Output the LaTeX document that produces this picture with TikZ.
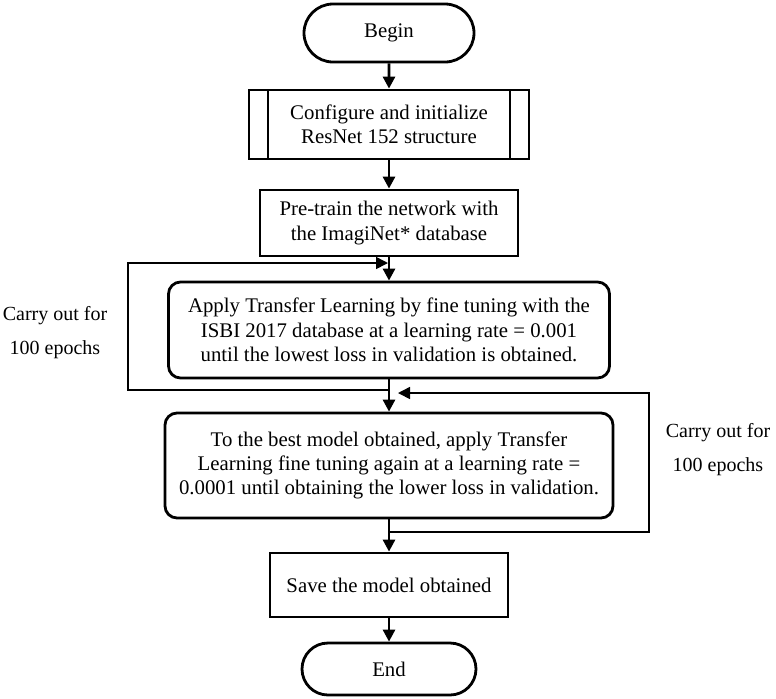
\documentclass[tikz,border=0pt]{standalone}
\usepackage{fontspec}
\setmainfont{Liberation Serif}
\usetikzlibrary{shapes.misc,arrows.meta}

\begin{document}
\begin{tikzpicture}[x=0.5pt,y=-0.5pt,
    every node/.style={font=\fontsize{10.4}{12.2}\selectfont, align=center},
    terminal/.style={draw, line width=1.4pt, rounded rectangle, inner sep=0pt},
    procbox/.style={draw, line width=1.4pt, rectangle, inner sep=0pt},
    roundbox/.style={draw, line width=1.4pt, rectangle, rounded corners=6pt, inner sep=0pt},
    predef/.style={procbox, path picture={
        \draw[line width=1.4pt]
        ([xshift=9.5pt]path picture bounding box.north west) -- ([xshift=9.5pt]path picture bounding box.south west)
        ([xshift=-9.5pt]path picture bounding box.north east) -- ([xshift=-9.5pt]path picture bounding box.south east);}},
    sidenote/.style={font=\fontsize{10}{17}\selectfont},
    flow/.style={line width=1.4pt, -{Triangle[width=6pt,length=6pt]}},
    loopline/.style={line width=0.8pt, -{Triangle[width=6pt,length=6pt]}}]
    \useasboundingbox (0,0) rectangle (776,698);
    \node[terminal, minimum width=85pt, minimum height=29pt] (begin)    at (389,33)    {Begin};
    \node[predef,   minimum width=140pt, minimum height=34.5pt] (config) at (389,124.5) {Configure and initialize\\ResNet 152 structure};
    \node[procbox,  minimum width=129pt, minimum height=33pt] (pretrain) at (389,223)   {Pre-train the network with\\the ImagiNet* database};
    \node[roundbox, minimum width=220.5pt, minimum height=48pt] (apply)  at (389,330)   {Apply Transfer Learning by fine tuning with the\\ISBI 2017 database at a learning rate = 0.001\\until the lowest loss in validation is obtained.};
    \node[roundbox, minimum width=224pt, minimum height=52.5pt] (again)  at (389,465.5) {To the best model obtained, apply Transfer\\Learning fine tuning again at a learning rate =\\0.0001 until obtaining the lower loss in validation.};
    \node[procbox,  minimum width=119pt, minimum height=32pt] (save)     at (389,585)   {Save the model obtained};
    \node[terminal, minimum width=87pt, minimum height=26pt] (end)       at (389,669)   {End};
    \node[sidenote] (note-l) at (55,333) {Carry out for\\100 epochs};
    \node[sidenote] (note-r) at (718,450) {Carry out for\\100 epochs};
    \coordinate (loop-l-a) at (389,390);
    \coordinate (loop-l-b) at (128,390);
    \coordinate (loop-l-c) at (128,263);
    \coordinate (loop-l-d) at (388,263);
    \coordinate (loop-r-a) at (389,532);
    \coordinate (loop-r-b) at (649,532);
    \coordinate (loop-r-c) at (649,393);
    \coordinate (loop-r-d) at (398,393);
    \path[flow]
    (begin) edge (config)
    (config) edge (pretrain)
    (pretrain) edge (apply)
    (apply) edge (again)
    (again) edge (save)
    (save) edge (end);
    \draw[loopline] (loop-l-a) -- (loop-l-b) -- (loop-l-c) -- (loop-l-d);
    \draw[loopline] (loop-r-a) -- (loop-r-b) -- (loop-r-c) -- (loop-r-d);
\end{tikzpicture}
\end{document}
